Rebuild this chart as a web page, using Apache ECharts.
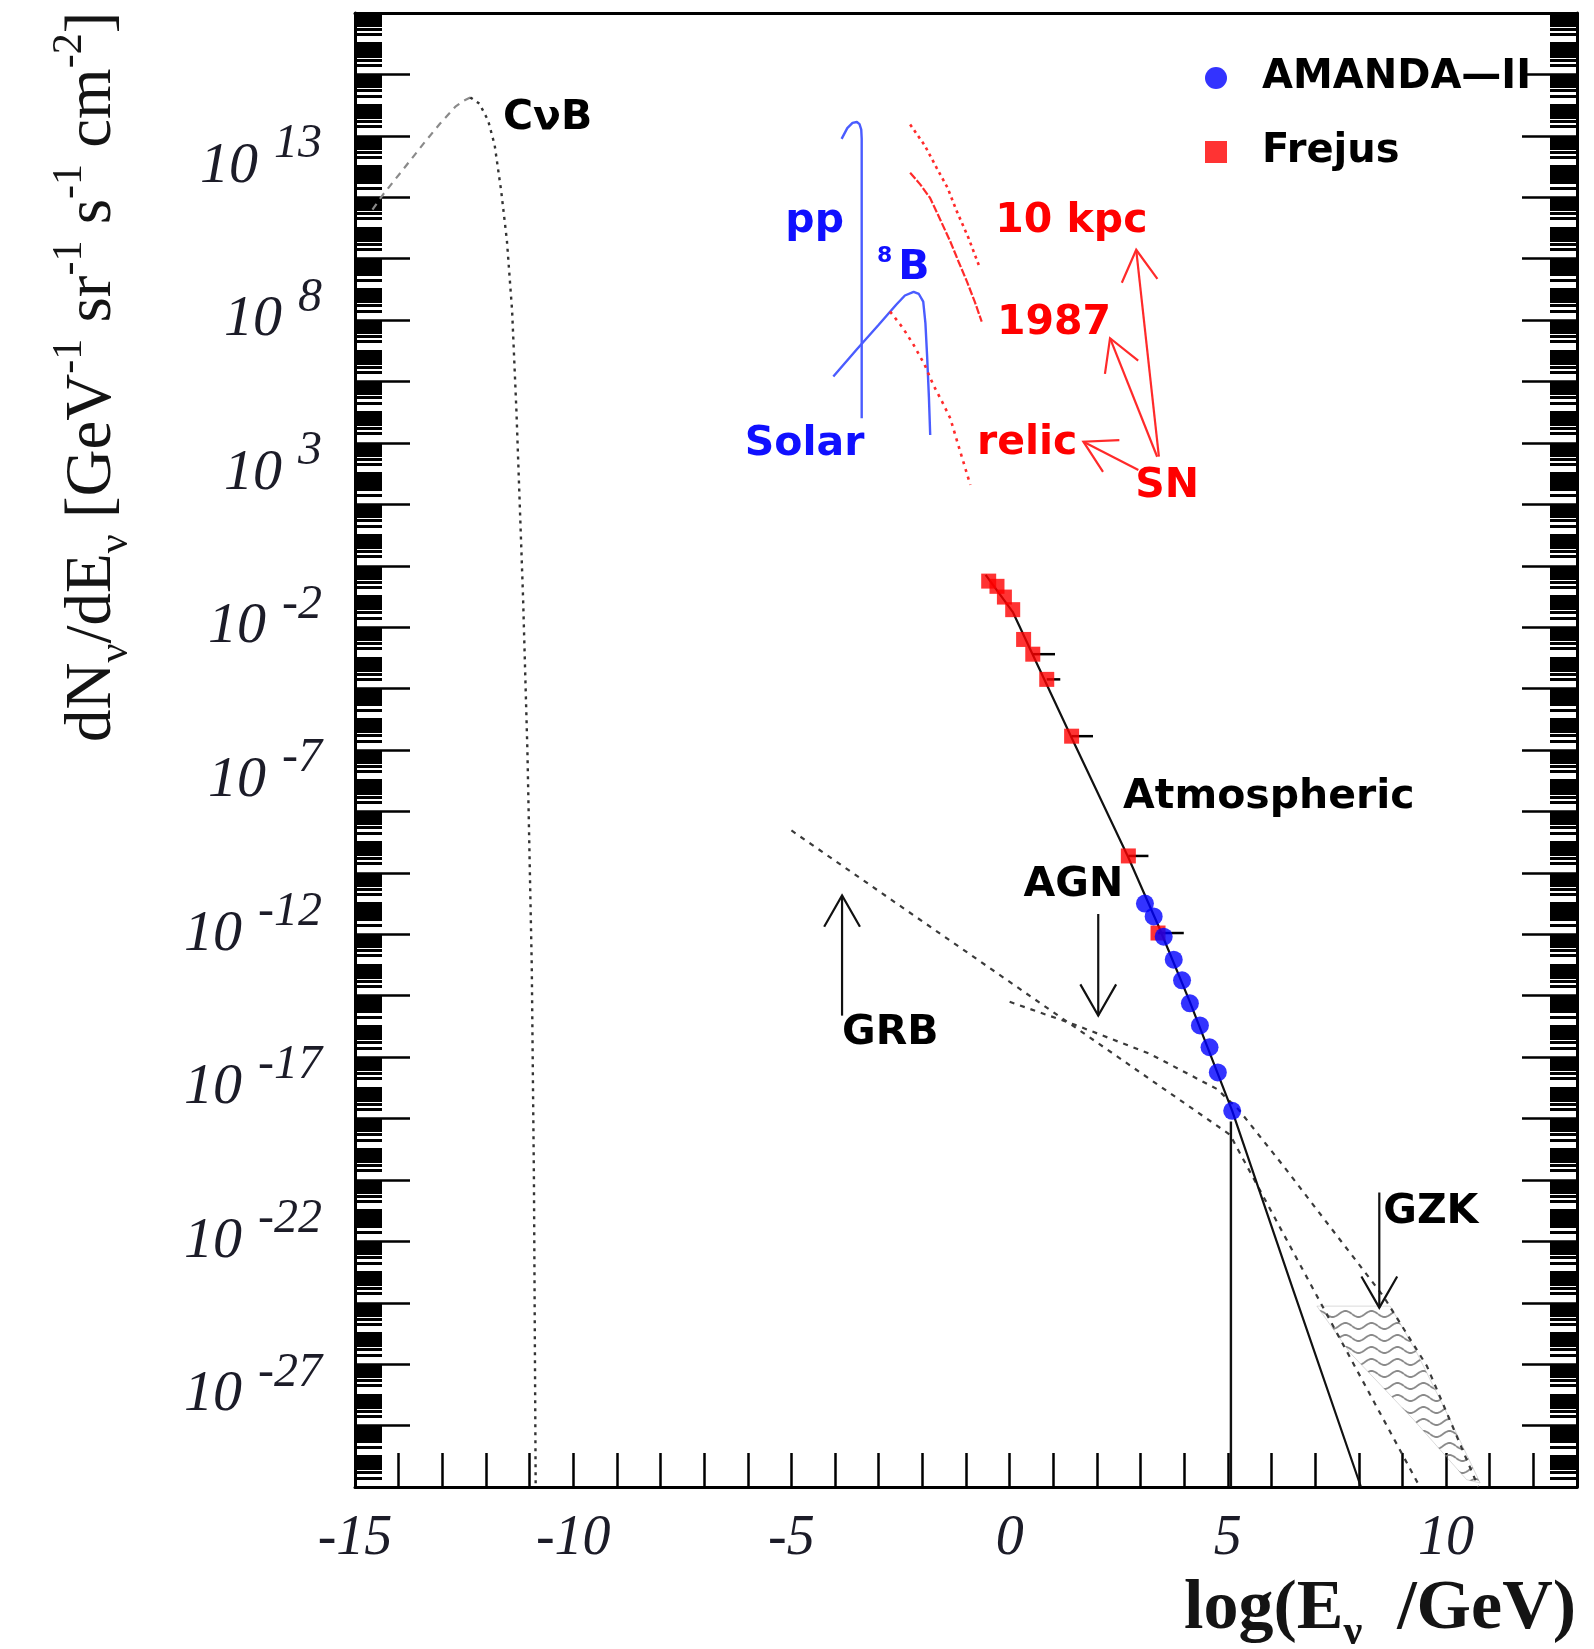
<!DOCTYPE html>
<html><head><meta charset="utf-8">
<script src="https://cdn.jsdelivr.net/npm/echarts@6/dist/echarts.min.js"></script>
<style>html,body{margin:0;padding:0;background:#fff}#c{width:1594px;height:1649px}</style>
</head><body><div id="c"></div>
<script>
// ---------------- axes (log10 units) ----------------
const xMin = -15, xMax = 13, yMin = -30, yMax = 18;
const xTickValues = [-15,-14,-13,-12,-11,-10,-9,-8,-7,-6,-5,-4,-3,-2,-1,0,1,2,3,4,5,6,7,8,9,10,11,12,13];
const xLabelValues = [-15,-10,-5,0,5,10];
const yLabelValues = [-27,-22,-17,-12,-7,-2,3,8,13];
const yMajorTickValues = [-30,-28,-26,-24,-22,-20,-18,-16,-14,-12,-10,-8,-6,-4,-2,0,2,4,6,8,10,12,14,16,18];

// ---------------- curves ----------------
const cnbUpX = [-14.6,-14.35,-13.9,-13.4,-13.05,-12.7,-12.5,-12.36];
const cnbUpY = [11.6,12.1,12.9,13.8,14.4,14.95,15.15,15.25];
const cnbDownX = [-12.36,-12.15,-11.95,-11.8,-11.65,-11.52,-11.4,-11.3,-11.15,-11.05,-10.95,-10.9,-10.86];
const cnbDownY = [15.25,15.05,14.5,13.7,12.2,10.6,8.3,5.0,-1.0,-6.0,-13.0,-20.0,-30.0];

const ppX = [-3.85,-3.72,-3.6,-3.5,-3.44,-3.4,-3.39,-3.39];
const ppY = [13.9,14.25,14.42,14.45,14.38,14.2,13.9,4.8];
const b8X = [-4.04,-3.5,-3.0,-2.6,-2.4,-2.2,-2.08,-1.98,-1.93,-1.89,-1.85,-1.82];
const b8Y = [6.16,7.05,7.85,8.5,8.8,8.92,8.85,8.6,7.9,6.8,5.5,4.26];

const sn10kpcX = [-2.28,-1.95,-1.67,-1.42,-1.21,-0.95,-0.68];
const sn10kpcY = [14.37,13.7,12.95,12.3,11.54,10.7,9.69];
const sn1987X = [-2.28,-2.05,-1.82,-1.6,-1.36,-1.17,-0.98,-0.8,-0.64];
const sn1987Y = [12.8,12.42,11.97,11.3,10.56,9.9,9.26,8.6,7.95];
const relicX = [-2.74,-2.45,-2.2,-1.95,-1.75,-1.55,-1.36,-1.15,-0.9];
const relicY = [8.28,7.75,7.19,6.55,5.89,5.35,4.8,3.8,2.63];

const atmX = [-0.55,0.07,0.53,1.42,2.72,3.4,4.13,5.1,6.5,8.05];
const atmY = [-0.3,-1.5,-2.9,-5.6,-9.5,-11.7,-14.2,-17.75,-23.6,-30];
const cutX = [5.07,5.07];
const cutY = [-18.1,-30];

const grbX = [-5.0,5.05,9.4];
const grbY = [-8.62,-18.53,-30];
const agnX = [0.0,1.5,3.22,4.75,5.24,6.27,7.5,8.56,9.56,10.74];
const agnY = [-14.2,-14.95,-15.9,-17.04,-17.7,-19.54,-21.82,-23.78,-26.06,-30];

const gzkX = [7.04,7.8,9.25,10.47,10.78,10.09,9.33,8.72];
const gzkY = [-24.11,-25.63,-27.8,-29.76,-29.87,-27.8,-25.63,-24.11];

// ---------------- measurements ----------------
const frejusX = [-0.48,-0.29,-0.12,0.07,0.32,0.53,0.85,1.42,2.72,3.4];
const frejusY = [-0.5,-0.67,-1.02,-1.43,-2.4,-2.88,-3.7,-5.55,-9.45,-11.96];
const frejusBarEndX = [-0.48,-0.29,-0.12,0.07,0.32,1.04,1.16,1.91,3.18,3.99];
const amandaX = [3.1,3.3,3.53,3.76,3.95,4.13,4.36,4.58,4.77,5.1];
const amandaY = [-11.0,-11.42,-12.08,-12.83,-13.5,-14.25,-14.97,-15.68,-16.5,-17.75];

// ---------------- annotations ----------------
const blackLblText = ['CνB','Atmospheric','AGN','GRB','GZK'];
const blackLblX = [-11.61,2.60,0.32,-3.84,8.56];
const blackLblY = [14.57,-7.55,-10.41,-15.22,-21.06];
const blueLblText = ['pp','B','Solar'];
const blueLblX = [-5.14,-2.55,-6.07];
const blueLblY = [11.2,9.67,3.94];
const blueSupText = ['8'];
const blueSupX = [-3.04];
const blueSupY = [10.07];
const redLblText = ['10 kpc','1987','relic','SN'];
const redLblX = [-0.33,-0.29,-0.75,2.88];
const redLblY = [11.2,7.9,4.0,2.57];

const blackArrowX0 = [-3.84,2.03,8.47];
const blackArrowY0 = [-14.65,-11.34,-20.41];
const blackArrowX1 = [-3.84,2.03,8.47];
const blackArrowY1 = [-10.74,-14.65,-24.16];
const redArrowX0 = [3.42,3.38,2.95];
const redArrowY0 = [3.55,3.55,3.12];
const redArrowX1 = [2.90,2.30,1.69];
const redArrowY1 = [10.29,7.41,4.04];

// ---------------- helpers ----------------
const zip = (xs, ys) => xs.map((x, i) => [x, ys[i]]);
const yMinorTickValues = [];
for (let d = yMin; d < yMax; d++) {
  if (d % 2 !== 0) yMinorTickValues.push(d);
  for (let k = 2; k <= 9; k++) yMinorTickValues.push(d + Math.log10(k));
}
const serif = 'Liberation Serif';
const sans = 'DejaVu Sans';

function lineSeries(name, xs, ys, color, width, type, z) {
  return { type: 'line', name: name, data: zip(xs, ys), showSymbol: false, symbol: 'none',
    lineStyle: { color: color, width: width, type: type }, silent: true, z: z || 3, animation: false };
}
function arrowSeries(x0, y0, x1, y1, color) {
  return { type: 'custom', silent: true, z: 4,
    data: x0.map((x, i) => [x, y0[i], x1[i], y1[i]]),
    renderItem: function (params, api) {
      const i = params.dataIndex;
      const p0 = api.coord([x0[i], y0[i]]);
      const p1 = api.coord([x1[i], y1[i]]);
      const ang = Math.atan2(p1[1] - p0[1], p1[0] - p0[0]);
      const L = 36, a = 0.52;
      const h1 = [p1[0] - L * Math.cos(ang - a), p1[1] - L * Math.sin(ang - a)];
      const h2 = [p1[0] - L * Math.cos(ang + a), p1[1] - L * Math.sin(ang + a)];
      return { type: 'group', children: [
        { type: 'line', shape: { x1: p0[0], y1: p0[1], x2: p1[0], y2: p1[1] }, style: { stroke: color, lineWidth: 2.2 } },
        { type: 'polyline', shape: { points: [h1, p1, h2] }, style: { stroke: color, lineWidth: 2.2, fill: null } }
      ]};
    } };
}
function labelSeries(texts, xs, ys, color, size) {
  return { type: 'custom', silent: true, z: 5,
    data: xs.map((x, i) => [x, ys[i]]),
    renderItem: function (params, api) {
      const i = params.dataIndex;
      const p = api.coord([xs[i], ys[i]]);
      return { type: 'text', x: p[0], y: p[1], style: { text: texts[i], fill: color,
        fontFamily: sans, fontWeight: 'bold', fontSize: size, align: 'left', verticalAlign: 'middle' } };
    } };
}

// wavy hatch for the GZK band
const pat = document.createElement('canvas');
pat.width = 26; pat.height = 12;
(function () {
  const g = pat.getContext('2d');
  g.strokeStyle = 'rgba(125,125,125,0.9)'; g.lineWidth = 1.8; g.beginPath();
  for (let i = 0; i <= 26; i++) { const yy = 6 + 3 * Math.sin(i / 26 * 2 * Math.PI); if (i) g.lineTo(i, yy); else g.moveTo(i, yy); }
  g.stroke();
})();

const chart = echarts.init(document.getElementById('c'), null, { renderer: 'canvas' });
const tickStyle = { color: '#000', width: 2.5 };
const minorTickStyle = { color: '#000', width: 3 };
const frameStyle = { color: '#000', width: 3 };

const option = {
  backgroundColor: '#fff',
  animation: false,
  grid: { left: 355, top: 13, width: 1222, height: 1474, containLabel: false },
  legend: {
    orient: 'vertical', left: 1200, top: 53, itemWidth: 22, itemHeight: 22, itemGap: 34,
    selectedMode: false,
    formatter: '{a|{name}}',
    textStyle: { color: '#000', fontFamily: sans, fontWeight: 'bold', fontSize: 40,
      rich: { a: { color: '#000', fontFamily: sans, fontWeight: 'bold', fontSize: 40, padding: [0, 0, 0, 30] } } },
    data: [{ name: 'AMANDA—II', icon: 'circle' }, { name: 'Frejus', icon: 'rect' }]
  },
  xAxis: [
    { type: 'value', min: xMin, max: xMax, position: 'bottom',
      axisLine: { show: true, onZero: false, lineStyle: frameStyle },
      axisTick: { show: true, inside: true, length: 34, lineStyle: tickStyle, customValues: xTickValues },
      axisLabel: { show: true, customValues: xLabelValues, margin: 24, fontFamily: serif, fontStyle: 'italic',
        fontSize: 56, color: '#1c1c28', formatter: v => String(v) },
      splitLine: { show: false } },
    { type: 'value', min: xMin, max: xMax, position: 'top',
      axisLine: { show: true, onZero: false, lineStyle: frameStyle },
      axisTick: { show: false }, axisLabel: { show: false }, splitLine: { show: false } }
  ],
  yAxis: [
    { type: 'value', min: yMin, max: yMax, position: 'left',
      axisLine: { show: true, onZero: false, lineStyle: frameStyle },
      axisTick: { show: true, inside: true, length: 55, lineStyle: tickStyle, customValues: yMajorTickValues },
      axisLabel: { show: true, customValues: yLabelValues, margin: 33,
        formatter: v => '{b|10}{e|' + v + '}',
        rich: {
          b: { fontFamily: serif, fontStyle: 'italic', fontSize: 58, lineHeight: 92, color: '#1c1c28', verticalAlign: 'middle' },
          e: { fontFamily: serif, fontStyle: 'italic', fontSize: 48, lineHeight: 48, color: '#1c1c28', verticalAlign: 'top', padding: [0, 0, 0, 16] }
        } },
      splitLine: { show: false } },
    { type: 'value', min: yMin, max: yMax, position: 'left',
      axisLine: { show: false, onZero: false },
      axisTick: { show: true, inside: true, length: 27, lineStyle: minorTickStyle, customValues: yMinorTickValues },
      axisLabel: { show: false }, splitLine: { show: false } },
    { type: 'value', min: yMin, max: yMax, position: 'right',
      axisLine: { show: true, onZero: false, lineStyle: frameStyle },
      axisTick: { show: true, inside: true, length: 55, lineStyle: tickStyle, customValues: yMajorTickValues },
      axisLabel: { show: false }, splitLine: { show: false } },
    { type: 'value', min: yMin, max: yMax, position: 'right',
      axisLine: { show: false, onZero: false },
      axisTick: { show: true, inside: true, length: 27, lineStyle: minorTickStyle, customValues: yMinorTickValues },
      axisLabel: { show: false }, splitLine: { show: false } }
  ],
  graphic: [
    { type: 'text', x: 93, y: 742, rotation: Math.PI / 2, silent: true,
      style: { align: 'left', verticalAlign: 'middle',
        text: '{n|dN}{s|ν}{n|/dE}{s|ν}{n| [GeV}{p|-1}{n| sr}{p|-1}{n| s}{p|-1}{n| cm}{p|-2}{n|]}',
        rich: {
          n: { fontFamily: serif, fontSize: 65, lineHeight: 88, fill: '#141414', verticalAlign: 'middle' },
          s: { fontFamily: serif, fontSize: 42, lineHeight: 42, fill: '#141414', verticalAlign: 'bottom' },
          p: { fontFamily: serif, fontSize: 42, lineHeight: 42, fill: '#141414', verticalAlign: 'top' }
        } } },
    { type: 'text', x: 1576, y: 1610, silent: true,
      style: { align: 'right', verticalAlign: 'middle',
        text: '{n|log(E}{s|ν}{n|  /GeV)}',
        rich: {
          n: { fontFamily: serif, fontWeight: 'bold', fontSize: 70, lineHeight: 88, fill: '#141414', verticalAlign: 'middle' },
          s: { fontFamily: serif, fontWeight: 'bold', fontSize: 42, lineHeight: 42, fill: '#141414', verticalAlign: 'bottom' }
        } } }
  ],
  series: [
    { type: 'custom', name: 'GZK band', silent: true, z: 2, data: [[gzkX[0], gzkY[0]]],
      renderItem: function (params, api) {
        const pts = gzkX.map((x, i) => api.coord([x, gzkY[i]]));
        return { type: 'polygon', shape: { points: pts },
          style: { fill: { image: pat, repeat: 'repeat' }, stroke: 'rgba(150,150,150,0.35)', lineWidth: 1 } };
      } },
    lineSeries('CνB rise', cnbUpX, cnbUpY, '#8a8a8a', 2.2, [7, 6]),
    lineSeries('CνB fall', cnbDownX, cnbDownY, '#333', 2.4, [3, 5]),
    lineSeries('pp', ppX, ppY, '#4a5cff', 2.4, 'solid'),
    lineSeries('8B', b8X, b8Y, '#4a5cff', 2.4, 'solid'),
    lineSeries('SN 10 kpc', sn10kpcX, sn10kpcY, '#ff2a2a', 2.6, [3, 4]),
    lineSeries('SN 1987', sn1987X, sn1987Y, '#ff2a2a', 2.2, [8, 2]),
    lineSeries('SN relic', relicX, relicY, '#ff2a2a', 2.6, [3, 5]),
    lineSeries('GRB', grbX, grbY, '#3a3a3a', 2.2, [5, 6]),
    lineSeries('AGN', agnX, agnY, '#3a3a3a', 2.2, [5, 6]),
    lineSeries('Atmospheric', atmX, atmY, '#111', 2.2, 'solid'),
    lineSeries('cut', cutX, cutY, '#111', 2.4, 'solid'),
    { type: 'custom', name: 'Frejus errors', silent: true, z: 4,
      data: frejusX.map((x, i) => [x, frejusY[i]]),
      renderItem: function (params, api) {
        const i = params.dataIndex;
        const p0 = api.coord([frejusX[i], frejusY[i]]);
        const p1 = api.coord([frejusBarEndX[i], frejusY[i]]);
        return { type: 'line', shape: { x1: p0[0], y1: p0[1], x2: p1[0], y2: p1[1] }, style: { stroke: '#000', lineWidth: 2.5 } };
      } },
    { type: 'scatter', name: 'Frejus', data: zip(frejusX, frejusY), symbol: 'rect', symbolSize: 15,
      itemStyle: { color: '#ff0000' }, z: 6, silent: true },
    { type: 'scatter', name: 'AMANDA—II', data: zip(amandaX, amandaY), symbol: 'circle', symbolSize: 18,
      itemStyle: { color: '#0000ff' }, z: 7, silent: true },
    arrowSeries(blackArrowX0, blackArrowY0, blackArrowX1, blackArrowY1, '#111'),
    arrowSeries(redArrowX0, redArrowY0, redArrowX1, redArrowY1, '#ff2a2a'),
    labelSeries(blackLblText, blackLblX, blackLblY, '#000', 41),
    labelSeries(blueLblText, blueLblX, blueLblY, '#1010ff', 41),
    labelSeries(blueSupText, blueSupX, blueSupY, '#1010ff', 22),
    labelSeries(redLblText, redLblX, redLblY, '#ff0000', 41)
  ]
};
chart.setOption(option);
</script>
</body></html>
